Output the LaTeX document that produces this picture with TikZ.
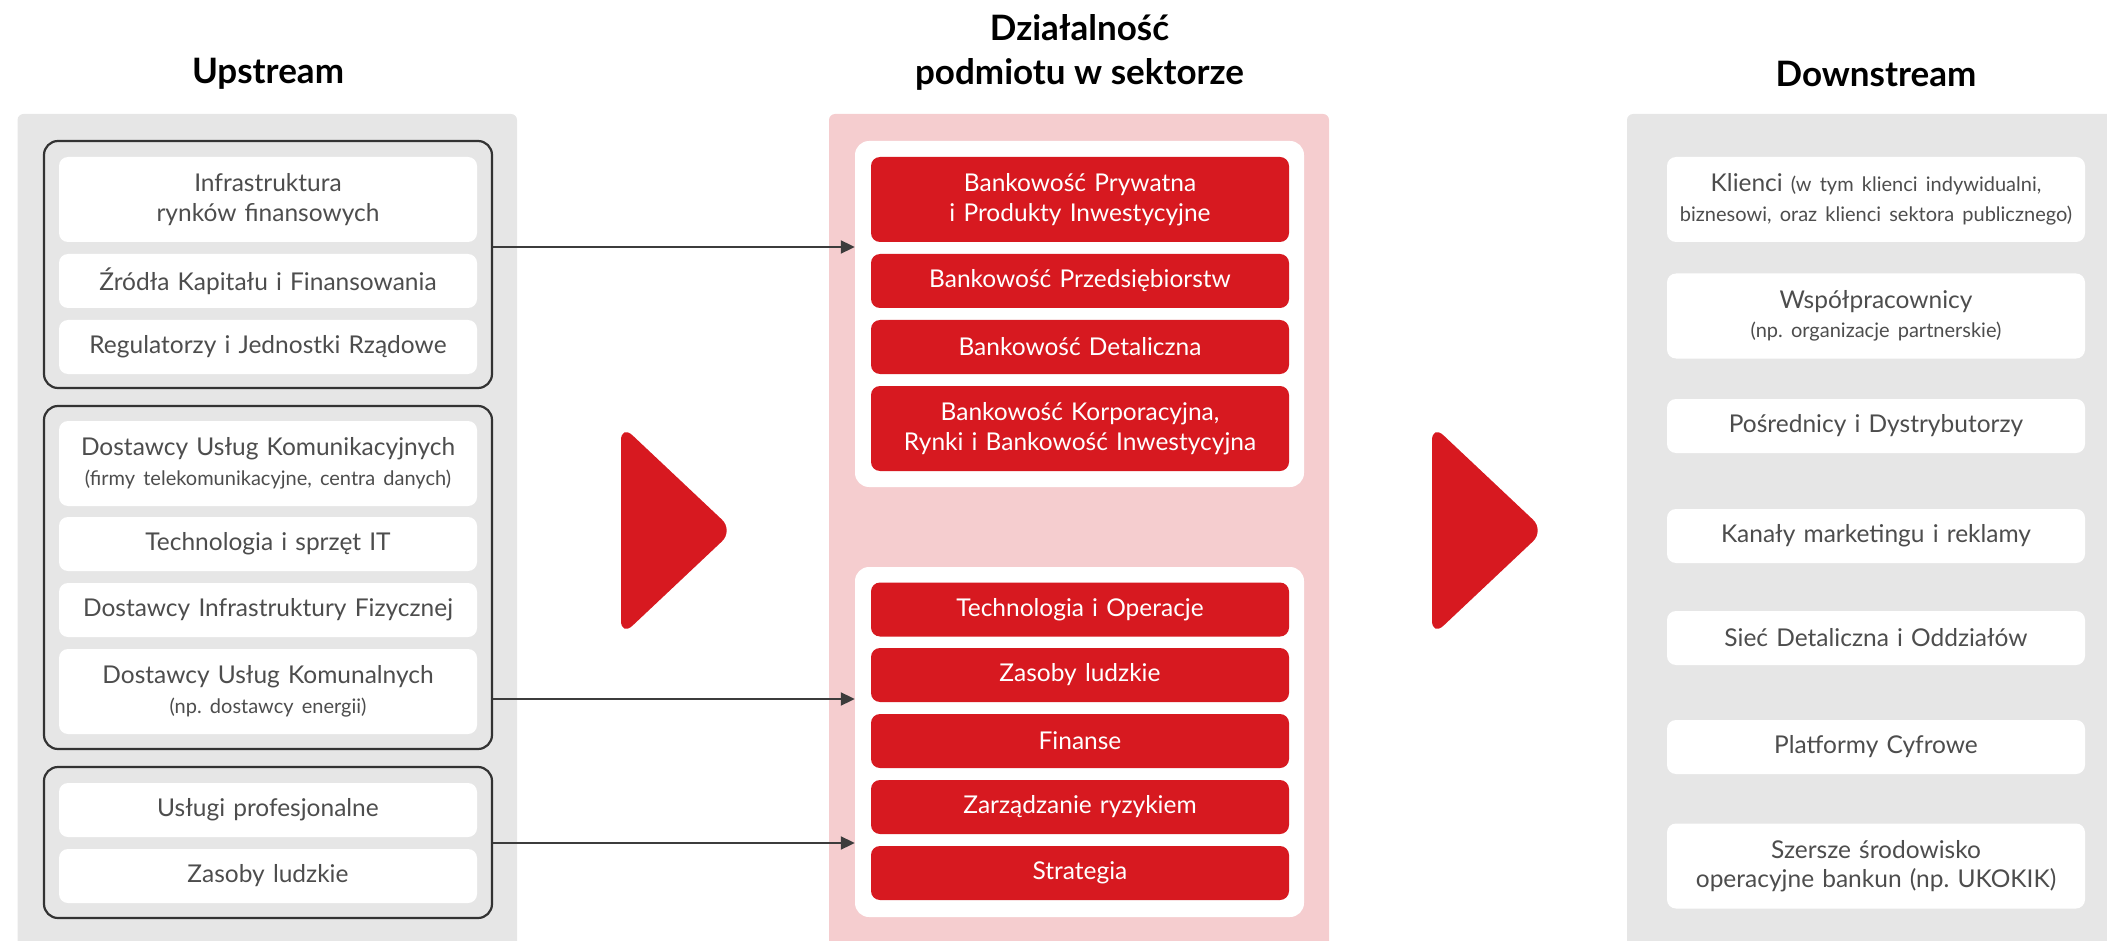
\documentclass[tikz,border=0pt]{standalone}
\usepackage{fontspec}
\setmainfont{Lato}
\usetikzlibrary{arrows.meta}

\definecolor{bankred}{RGB}{215,25,32}
\definecolor{panelgray}{RGB}{230,230,230}
\definecolor{panelpink}{RGB}{245,205,207}
\definecolor{textgray}{RGB}{77,77,77}
\definecolor{frameline}{RGB}{51,51,51}
\definecolor{linkgray}{RGB}{60,60,60}

\newcommand{\boxfont}{\frenchspacing\fontsize{24.5}{29.5}\selectfont}
\newcommand{\notefont}{\fontsize{20}{29.5}\selectfont}
\newcommand{\ttlfont}{\bfseries\fontsize{35}{44}\selectfont}

\begin{document}
\begin{tikzpicture}[x=1pt,y=1pt,yscale=-1,xscale=1,
  gbox/.style={fill=white, rounded corners=9pt, text=textgray, align=center,
    text width=414pt, minimum width=418pt, inner sep=0pt, font=\boxfont},
  rbox/.style={gbox, fill=bankred, text=white},
  sgl/.style={minimum height=54pt},
  dbl/.style={minimum height=85pt},
  grpframe/.style={draw=frameline, line width=2.2pt, rounded corners=14pt,
    minimum width=448pt, inner sep=0pt},
  wframe/.style={fill=white, rounded corners=14pt, minimum width=449pt, inner sep=0pt},
  link/.style={draw=linkgray, line width=2pt, -{Triangle[length=14pt,width=13pt]}},
  ttl/.style={align=center, text=black, font=\ttlfont}]
\path[use as bounding box] (0,0) rectangle (2107,941);

%Shape: Rectangle (column panels)
\fill[panelgray, rounded corners=6pt] (17.5,114) rectangle (517,990);
\fill[panelpink, rounded corners=6pt] (829,114) rectangle (1329,990);
\fill[panelgray, rounded corners=6pt] (1627,114) rectangle (2140,990);

% Text Node
\node[ttl] (upst) at (268,74) {Upstream};
% Text Node
\node[ttl] (dzial) at (1079.5,52) {Działalność\\podmiotu w sektorze};
% Text Node
\node[ttl] (downst) at (1876,74) {Downstream};

%Shape: Rectangle (upstream groups)
\node[grpframe, minimum height=247pt] (grpA) at (268,264.5) {};
\node[grpframe, minimum height=343pt] (grpB) at (268,577.5) {};
\node[grpframe, minimum height=151pt] (grpC) at (268,842.5) {};

\node[gbox, dbl] (infra) at (268,199.5) {Infrastruktura\\rynków finansowych};
\node[gbox, sgl] (zrodla) at (268,281) {Źródła Kapitału i Finansowania};
\node[gbox, sgl] (regul) at (268,347) {Regulatorzy i Jednostki Rządowe};

\node[gbox, dbl] (komunik) at (268,463.5) {Dostawcy Usług Komunikacyjnych\\{\notefont (firmy telekomunikacyjne, centra danych)}};
\node[gbox, sgl] (techit) at (268,544) {Technologia i sprzęt IT};
\node[gbox, sgl] (fizyk) at (268,610) {Dostawcy Infrastruktury Fizycznej};
\node[gbox, dbl] (komunal) at (268,691.5) {Dostawcy Usług Komunalnych\\{\notefont (np. dostawcy energii)}};

\node[gbox, sgl] (uslugi) at (268,810) {Usługi profesjonalne};
\node[gbox, sgl] (zasobyA) at (268,876) {Zasoby ludzkie};

%Shape: Rectangle (business lines)
\node[wframe, minimum height=346pt] (wfA) at (1079.5,314) {};
\node[wframe, minimum height=350pt] (wfB) at (1079.5,742) {};

\node[rbox, dbl] (prywat) at (1080,199.5) {Bankowość Prywatna\\i Produkty Inwestycyjne};
\node[rbox, sgl] (przeds) at (1080,281) {Bankowość Przedsiębiorstw};
\node[rbox, sgl] (detal) at (1080,347) {Bankowość Detaliczna};
\node[rbox, dbl] (korpo) at (1080,428.5) {Bankowość Korporacyjna,\\Rynki i Bankowość Inwestycyjna};

\node[rbox, sgl] (techop) at (1080,609.5) {Technologia i Operacje};
\node[rbox, sgl] (zasobyB) at (1080,675) {Zasoby ludzkie};
\node[rbox, sgl] (finanse) at (1080,741) {Finanse};
\node[rbox, sgl] (ryzyko) at (1080,807) {Zarządzanie ryzykiem};
\node[rbox, sgl] (strat) at (1080,873) {Strategia};

%Shape: Rectangle (downstream)
\node[gbox, dbl] (klienci) at (1876,199.5) {Klienci {\notefont (w tym klienci indywidualni,}\\{\notefont biznesowi, oraz klienci sektora publicznego)}};
\node[gbox, dbl] (wspol) at (1876,316) {Współpracownicy\\{\notefont (np. organizacje partnerskie)}};
\node[gbox, sgl] (posred) at (1876,426) {Pośrednicy i Dystrybutorzy};
\node[gbox, sgl] (kanaly) at (1876,536) {Kanały marketingu i reklamy};
\node[gbox, sgl] (siec) at (1876,638) {Sieć Detaliczna i Oddziałów};
\node[gbox, sgl] (platf) at (1876,747) {Platformy Cyfrowe};
\node[gbox, dbl] (szersze) at (1876,866) {Szersze środowisko\\operacyjne bankun (np. UKOKIK)};

%Straight Lines
\coordinate (yA) at (0,247);
\coordinate (yB) at (0,699);
\coordinate (yC) at (0,843);
\draw[link] (grpA.east |- yA) -- (wfA.west |- yA);
\draw[link] (grpB.east |- yB) -- (wfB.west |- yB);
\draw[link] (grpC.east |- yC) -- (wfB.west |- yC);

%Shape: Triangle
\fill[bankred, rounded corners=16pt] (621,424.5) -- (733.5,530.5) -- (621,636.5) -- cycle;
%Shape: Triangle
\fill[bankred, rounded corners=16pt] (1432,424.5) -- (1544.5,530.5) -- (1432,636.5) -- cycle;

\end{tikzpicture}
\end{document}
